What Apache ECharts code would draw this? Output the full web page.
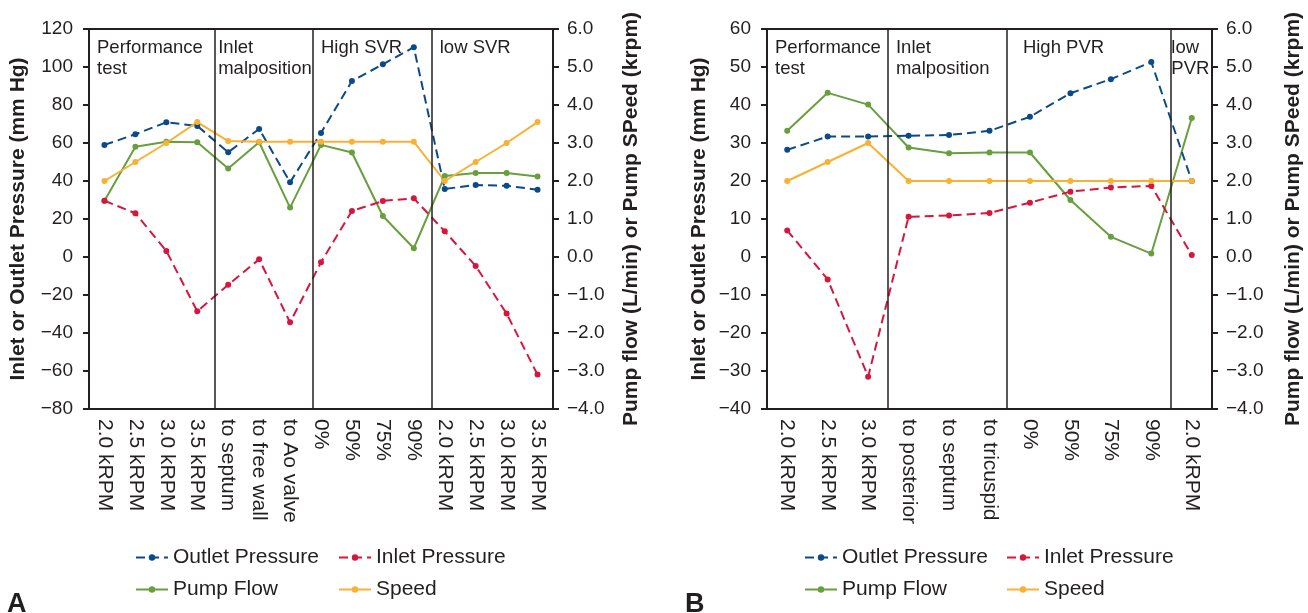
<!DOCTYPE html>
<html>
<head>
<meta charset="utf-8">
<script src="https://cdn.jsdelivr.net/npm/echarts@6/dist/echarts.min.js"></script>
<style>
  * { margin: 0; padding: 0; }
  body { background: #fff; }
  #main { width: 1308px; height: 613px; }
</style>
</head>
<body>
<div id="main"></div>
<script>
// panel A
const catsA = ['2.0 kRPM', '2.5 kRPM', '3.0 kRPM', '3.5 kRPM', 'to septum', 'to free wall', 'to Ao valve',
  '0%', '50%', '75%', '90%', '2.0 kRPM', '2.5 kRPM', '3.0 kRPM', '3.5 kRPM'];
const outletA = [59, 64.6, 70.9, 69, 55.1, 67.4, 39.3, 65.3, 92.6, 101.4, 110.4, 35.8, 37.9, 37.5, 35.4];
const inletA = [29.6, 23, 3.2, -28.6, -14.6, -1.2, -34.4, -2.8, 24.2, 29.5, 30.9, 13.5, -4.7, -29.8, -61.9];
const flowA = [1.48, 2.9, 3.03, 3.02, 2.33, 3.02, 1.3, 2.95, 2.75, 1.08, 0.23, 2.13, 2.21, 2.21, 2.12];
const speedA = [2.0, 2.5, 3.0, 3.55, 3.05, 3.03, 3.03, 3.03, 3.03, 3.03, 3.03, 2.0, 2.5, 3.0, 3.55];
const sectionsA = ['Performance\ntest', 'Inlet\nmalposition', 'High SVR', 'low SVR'];
const dividersA = [3.58, 6.74, 10.58];

// panel B
const catsB = ['2.0 kRPM', '2.5 kRPM', '3.0 kRPM', 'to posterior', 'to septum', 'to tricuspid',
  '0%', '50%', '75%', '90%', '2.0 kRPM'];
const outletB = [28.2, 31.7, 31.7, 31.9, 32.1, 33.2, 36.9, 43.1, 46.8, 51.3, 20.0];
const inletB = [7.0, -5.9, -31.5, 10.6, 10.9, 11.6, 14.3, 17.2, 18.3, 18.7, 0.5];
const flowB = [3.32, 4.32, 4.01, 2.88, 2.73, 2.75, 2.75, 1.5, 0.53, 0.09, 3.66];
const speedB = [2.0, 2.5, 3.0, 2.0, 2.0, 2.0, 2.0, 2.0, 2.0, 2.0, 2.0];
const sectionsB = ['Performance\ntest', 'Inlet\nmalposition', 'High PVR', 'low\nPVR'];
const dividersB = [2.49, 5.43, 9.47];

// axis ranges
const pressA = { min: -80, max: 120, interval: 20 };
const pressB = { min: -40, max: 60, interval: 10 };
const rightAx = { min: -4, max: 6, interval: 1 };

const INK = '#231f20';
const FONT = 'Liberation Sans, Arial, sans-serif';
const colors = { outlet: '#0b4a89', inlet: '#d7163d', flow: '#679f3e', speed: '#f8b133' };

function minus(s) { return String(s).replace('-', '\u2212'); }

const chart = echarts.init(document.getElementById('main'));

const grids = [
  { left: 89, top: 29, width: 464, height: 380 },
  { left: 767, top: 29, width: 445, height: 380 }
];

let xAxis = [], yAxis = [], series = [];

function panel(gi, cats, outlet, inlet, flow, speed, sections, dividers, press, padL, gapL, gapR) {
  const xi = xAxis.length, yi = yAxis.length;
  xAxis.push({
    type: 'category', gridIndex: gi, data: cats, boundaryGap: true,
    axisLine: { onZero: false, lineStyle: { color: INK, width: 2 } },
    axisTick: { show: false },
    axisLabel: { rotate: -90, fontSize: 21, color: INK, fontFamily: FONT, margin: 10 }
  });
  // hidden axis used to place section dividers between categories
  xAxis.push({
    type: 'value', gridIndex: gi, min: -0.5, max: cats.length - 0.5, show: false
  });
  yAxis.push({
    type: 'value', gridIndex: gi, min: press.min, max: press.max, interval: press.interval,
    name: 'Inlet or Outlet Pressure (mm Hg)', nameLocation: 'middle', nameGap: gapL,
    nameTextStyle: { fontSize: 21, fontWeight: 'bold', color: INK, fontFamily: FONT },
    axisLine: { show: true, onZero: false, lineStyle: { color: INK, width: 2 } },
    axisTick: { show: true, length: 6, lineStyle: { color: INK, width: 2 } },
    axisLabel: { fontSize: 19, color: INK, fontFamily: FONT, margin: 16, formatter: v => minus(v) },
    splitLine: { show: false }
  });
  yAxis.push({
    type: 'value', gridIndex: gi, position: 'right',
    min: rightAx.min, max: rightAx.max, interval: rightAx.interval,
    name: 'Pump flow (L/min) or Pump SPeed (krpm)', nameLocation: 'middle', nameGap: gapR,
    nameTextStyle: { fontSize: 21, fontWeight: 'bold', color: INK, fontFamily: FONT },
    axisLine: { show: true, onZero: false, lineStyle: { color: INK, width: 2 } },
    axisTick: { show: true, length: 6, lineStyle: { color: INK, width: 2 } },
    axisLabel: { fontSize: 19, color: INK, fontFamily: FONT, margin: 14, formatter: v => minus(v.toFixed(1)) },
    splitLine: { show: false }
  });

  const bounds = [-0.5].concat(dividers, [cats.length - 0.5]);
  series.push({
    type: 'line', xAxisIndex: xi + 1, yAxisIndex: yi, data: [], silent: true,
    markLine: {
      silent: true, symbol: 'none', label: { show: false },
      lineStyle: { color: INK, width: 1.5, type: 'solid' },
      data: dividers.map(d => ({ xAxis: d }))
    },
    markArea: {
      silent: true, itemStyle: { color: 'rgba(0,0,0,0)' },
      data: sections.map((s, i) => [
        { name: s, xAxis: bounds[i], yAxis: press.max,
          label: { offset: [padL[i] - 5, 3] } },
        { xAxis: bounds[i + 1], yAxis: press.min }
      ]),
      label: {
        show: true, position: 'insideTopLeft', distance: 5,
        fontSize: 18.5, lineHeight: 21, color: INK, fontFamily: FONT
      }
    }
  });

  const mk = (name, data, yIdx, color, dashed) => ({
    name, type: 'line', xAxisIndex: xi, yAxisIndex: yIdx, data,
    symbol: 'circle', symbolSize: 6,
    itemStyle: { color },
    lineStyle: { color, width: 2, type: dashed ? [9, 5] : 'solid' },
    emphasis: { disabled: true }
  });
  series.push(mk('Pump Flow', flow, yi + 1, colors.flow, false));
  series.push(mk('Outlet Pressure', outlet, yi, colors.outlet, true));
  series.push(mk('Inlet Pressure', inlet, yi, colors.inlet, true));
  series.push(mk('Speed', speed, yi + 1, colors.speed, false));
}

panel(0, catsA, outletA, inletA, flowA, speedA, sectionsA, dividersA, pressA, [8, 3, 8, 8], 60, 68);
panel(1, catsB, outletB, inletB, flowB, speedB, sectionsB, dividersB, pressB, [8, 8, 16, 1], 57, 71);

const legendBase = {
  orient: 'vertical', itemWidth: 32, itemHeight: 8, itemGap: 11,
  textStyle: { fontSize: 21, color: INK, fontFamily: FONT },
  selectedMode: false
};

chart.setOption({
  animation: false,
  title: [
    { text: 'A', left: 2, top: 586, textStyle: { fontSize: 27, fontWeight: 'bold', color: INK, fontFamily: FONT } },
    { text: 'B', left: 680, top: 586, textStyle: { fontSize: 27, fontWeight: 'bold', color: INK, fontFamily: FONT } }
  ],
  legend: [
    Object.assign({}, legendBase, { left: 130, top: 542, data: ['Outlet Pressure', 'Pump Flow'] }),
    Object.assign({}, legendBase, { left: 333, top: 542, data: ['Inlet Pressure', 'Speed'] }),
    Object.assign({}, legendBase, { left: 799, top: 542, data: ['Outlet Pressure', 'Pump Flow'] }),
    Object.assign({}, legendBase, { left: 1001, top: 542, data: ['Inlet Pressure', 'Speed'] })
  ],
  grid: grids.map(g => Object.assign({ show: true, borderColor: INK, borderWidth: 2 }, g)),
  xAxis,
  yAxis,
  series
});
</script>
</body>
</html>
